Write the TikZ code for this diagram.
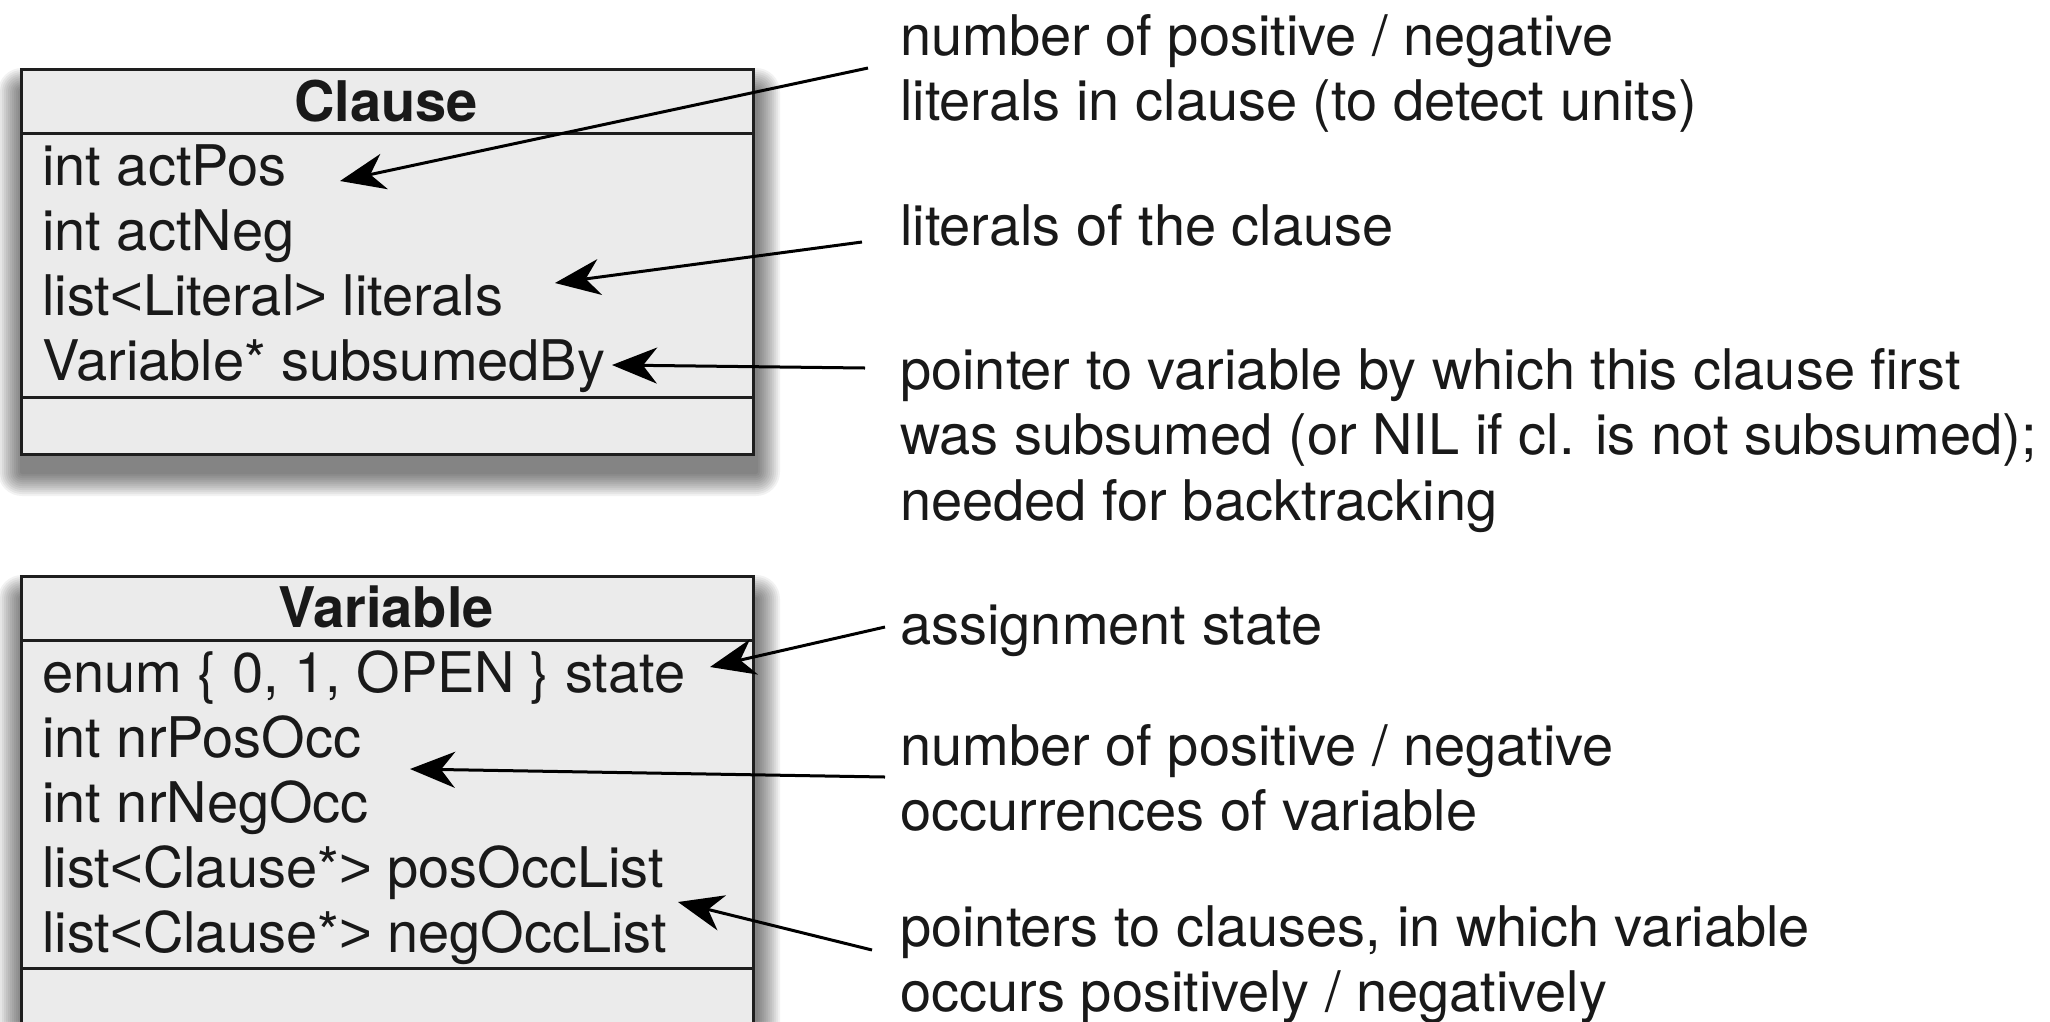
\documentclass[tikz,border=0pt]{standalone}
\usepackage{fontspec}
\setmainfont{TeX Gyre Heros}
\newfontfamily\ltgt{Liberation Sans}
\newcommand{\lessch}{{\ltgt<}}
\newcommand{\greaterch}{{\ltgt>}}
\usetikzlibrary{arrows.meta}
\definecolor{boxfill}{RGB}{235,235,235}
\definecolor{boxline}{RGB}{30,30,30}
\definecolor{txtcol}{RGB}{25,25,25}
\begin{document}
\begin{tikzpicture}[x=1pt,y=-1pt,
  umlbox/.style={fill=boxfill,draw=boxline,line width=3pt,inner sep=0pt,anchor=north west},
  sep/.style={draw=boxline,line width=3pt},
  txt/.style={inner sep=0pt,text=txtcol,font=\fontsize{56}{65}\selectfont},
  attr/.style={txt,anchor=base west},
  ctitle/.style={txt,anchor=base,font=\fontsize{56}{65}\selectfont\bfseries},
  note/.style={txt,anchor=base west},
  pointer/.style={-{Stealth[length=45pt,width=36pt,inset=14pt]},line width=3pt,draw=black},
  shadowlayer/.style={fill=black,opacity=0.05}]

\clip (0,0) rectangle (2050,1021);
\fill[white] (0,0) rectangle (2050,1021);

% shadows (soft, offset downwards)
\foreach \r in {24,22,...,2} {
  \fill[shadowlayer,rounded corners=\r pt] (22-\r,92-\r) rectangle (756+\r,472+\r);
  \fill[shadowlayer,rounded corners=\r pt] (22-\r,599-\r) rectangle (756+\r,1080+\r);
}

% Clause box
\node[umlbox,minimum width=732pt,minimum height=385pt] (clause) at (20,68) {};
\draw[sep] (20,133) -- (752,133);
\draw[sep] (20,397) -- (752,397);
\node[ctitle] (ctitle) at (386,121) {Clause};
\node[attr] (ca1) at (42,185) {int actPos};
\node[attr] (ca2) at (42,250) {int actNeg};
\node[attr] (ca3) at (42,315) {list\lessch Literal\greaterch{} literals};
\node[attr] (ca4) at (42,380) {Variable* subsumedBy};

% Variable box
\node[umlbox,minimum width=732pt,minimum height=480pt] (variable) at (20,575) {};
\draw[sep] (20,640) -- (752,640);
\draw[sep] (20,968) -- (752,968);
\node[ctitle] (vtitle) at (386,627) {Variable};
\node[attr] (va1) at (42,692) {enum \{ 0, 1, OPEN \} state};
\node[attr] (va2) at (42,757) {int nrPosOcc};
\node[attr] (va3) at (42,822) {int nrNegOcc};
\node[attr] (va4) at (42,887) {list\lessch Clause*\greaterch{} posOccList};
\node[attr] (va5) at (42,952) {list\lessch Clause*\greaterch{} negOccList};

% notes
\node[note] (n1a) at (900,55) {number of positive / negative};
\node[note] (n1b) at (900,120) {literals in clause (to detect units)};
\node[note] (n2a) at (900,245) {literals of the clause};
\node[note] (n3a) at (900,389) {pointer to variable by which this clause first};
\node[note] (n3b) at (900,454) {was subsumed (or NIL if cl. is not subsumed);};
\node[note] (n3c) at (900,520) {needed for backtracking};
\node[note] (n4a) at (900,644) {assignment state};
\node[note] (n5a) at (900,765) {number of positive / negative};
\node[note] (n5b) at (900,830) {occurrences of variable};
\node[note] (n6a) at (900,946) {pointers to clauses, in which variable};
\node[note] (n6b) at (900,1011) {occurs positively / negatively};

% arrow ends
\coordinate (s1) at (868,68);  \coordinate (e1) at (340,181);
\coordinate (s2) at (862,242); \coordinate (e2) at (555,283);
\coordinate (s3) at (865,368); \coordinate (e3) at (612,365);
\coordinate (s4) at (885,627); \coordinate (e4) at (710,667);
\coordinate (s5) at (885,777); \coordinate (e5) at (410,769);
\coordinate (s6) at (872,950); \coordinate (e6) at (678,902);

\draw[pointer] (s1) -- (e1);
\draw[pointer] (s2) -- (e2);
\draw[pointer] (s3) -- (e3);
\draw[pointer] (s4) -- (e4);
\draw[pointer] (s5) -- (e5);
\draw[pointer] (s6) -- (e6);
\end{tikzpicture}
\end{document}
